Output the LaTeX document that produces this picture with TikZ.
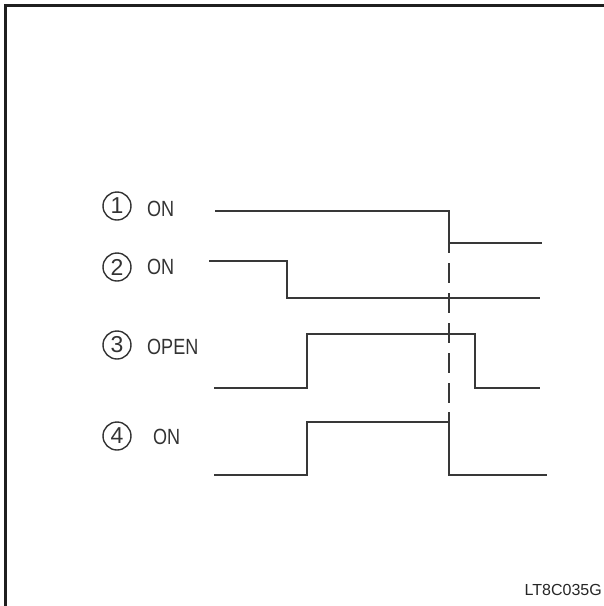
\documentclass[tikz,border=0pt]{standalone}
\usepackage{fontspec}
\setmainfont{Liberation Sans}
\begin{document}
\begin{tikzpicture}[x=1pt,y=-1pt,
  wave/.style={line width=1.8pt,draw=black!78,line join=miter},
  numcirc/.style={circle,draw=black!80,line width=1.4pt,minimum size=28pt,inner sep=0pt,
    font=\fontsize{23}{23}\selectfont,text=black!80},
  sig/.style={anchor=west,inner sep=0pt,font=\fontsize{22}{22}\selectfont,text=black!80},
  frameline/.style={line width=3pt,draw=black!88}]
\useasboundingbox (0,0) rectangle (604,606);
% frame (left and top only)
\draw[frameline] (5.5,606) -- (5.5,5.5) -- (604,5.5);
% labels
\node[numcirc] (n1) at (117,206) {1};
\node[numcirc] (n2) at (117,267) {2};
\node[numcirc] (n3) at (117,345) {3};
\node[numcirc] (n4) at (117,436) {4};
\node[sig] (l1) at (147,209) {\scalebox{0.82}[1]{ON}};
\node[sig] (l2) at (147,267) {\scalebox{0.82}[1]{ON}};
\node[sig] (l3) at (147,347) {\scalebox{0.82}[1]{OPEN}};
\node[sig] (l4) at (153,437) {\scalebox{0.82}[1]{ON}};
% key coordinates
\coordinate (c1) at (449,243);
\coordinate (c4) at (449,422);
% waveform 1
\draw[wave] (215,211) -- (449,211) -- (449,253) (449,243) -- (542,243);
% waveform 2
\draw[wave] (209,261) -- (287,261) -- (287,298) -- (540,298);
% waveform 3
\draw[wave] (214,388) -- (307,388) -- (307,334) -- (475,334) -- (475,388) -- (540,388);
% waveform 4
\draw[wave] (214,475) -- (307,475) -- (307,422) -- (449,422) -- (449,475) -- (547,475);
\draw[wave] (449,412) -- (c4);
% dashed marker
\draw[wave,dash pattern=on 20pt off 10pt,dash phase=10pt] (c1) -- (c4);
% code
\node[anchor=east,inner sep=0pt,font=\fontsize{16}{16}\selectfont,text=black!85] (code) at (602,590) {LT8C035G};
\end{tikzpicture}
\end{document}
